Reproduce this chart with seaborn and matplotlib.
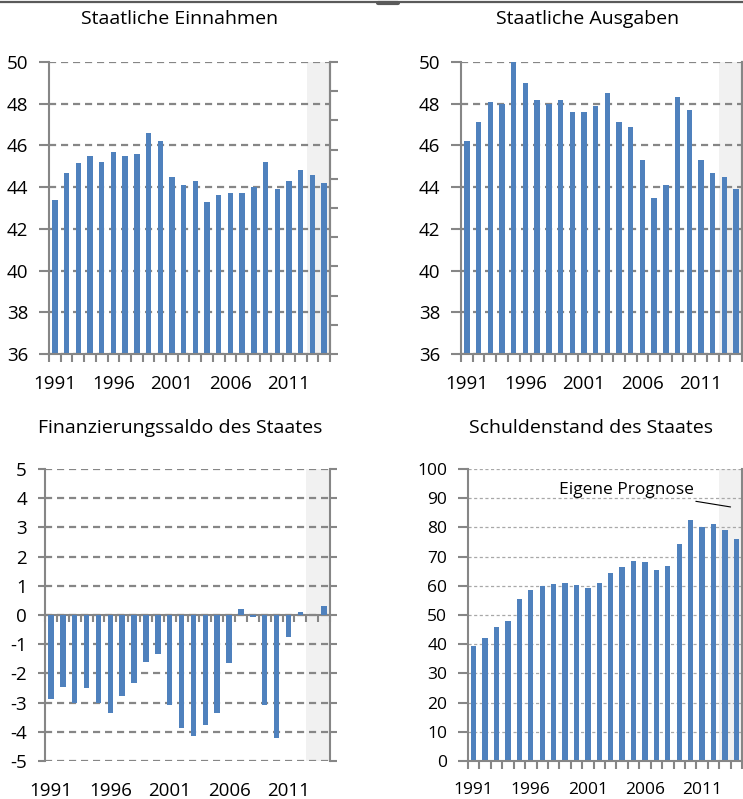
import seaborn as sns
import pandas as pd
import matplotlib.pyplot as plt
import numpy as np
from matplotlib.lines import Line2D

years = [str(y) for y in range(1991, 2015)]
label_years = ['1991', '1996', '2001', '2006', '2011']

einnahmen = [43.4, 44.7, 45.15, 45.5, 45.2, 45.7, 45.5, 45.6, 46.6, 46.2, 44.5, 44.1,
             44.3, 43.3, 43.6, 43.7, 43.7, 44.0, 45.2, 43.9, 44.3, 44.8, 44.6, 44.2]
ausgaben = [46.2, 47.1, 48.1, 48.0, 50.0, 49.0, 48.2, 48.0, 48.2, 47.6, 47.6, 47.9,
            48.5, 47.1, 46.9, 45.3, 43.5, 44.1, 48.3, 47.7, 45.3, 44.7, 44.5, 43.9]
saldo = [-2.87, -2.46, -3.0, -2.49, -3.02, -3.35, -2.77, -2.34, -1.61, -1.35, -3.07, -3.86,
         -4.16, -3.78, -3.35, -1.66, 0.22, -0.06, -3.09, -4.2, -0.77, 0.09, 0.0, 0.3]
schulden = [39.5, 42.1, 45.8, 48.0, 55.4, 58.4, 59.8, 60.6, 61.1, 60.2, 59.2, 60.8,
            64.5, 66.3, 68.6, 68.0, 65.3, 66.7, 74.4, 82.4, 80.0, 81.3, 79.1, 76.1]

titles = ['Staatliche Einnahmen', 'Staatliche Ausgaben',
          'Finanzierungssaldo des Staates', 'Schuldenstand des Staates']

BLUE = '#4f81bd'
GRAY = '#868686'

sns.set_style('white')
plt.rcParams['font.family'] = ['Open Sans', 'DejaVu Sans']
plt.rcParams['axes.unicode_minus'] = False
plt.rcParams['text.color'] = 'black'
plt.rcParams['xtick.labelcolor'] = 'black'
plt.rcParams['ytick.labelcolor'] = 'black'

fig = plt.figure(figsize=(7.43, 7.99), dpi=100)
W, H = 743, 799


def make_ax(left, right, top, bottom):
    return fig.add_axes([left / W, 1 - bottom / H, (right - left) / W, (bottom - top) / H])


def draw(ax, values, ymin, ymax, step, grid_kw, fs=12):
    df = pd.DataFrame({'Jahr': years, 'Wert': values})
    ax.axvspan(21.5, 23.5, color='#f1f1f1', zorder=0, lw=0)
    sns.barplot(data=df, x='Jahr', y='Wert', color=BLUE, width=0.46, saturation=1,
                edgecolor='none', linewidth=0, ax=ax, zorder=2)
    ax.set_xlim(-0.5, 23.5)
    ax.set_ylim(ymin, ymax)
    ax.set_yticks(np.arange(ymin, ymax + step / 2, step))
    ax.set_xticks([years.index(y) for y in label_years])
    ax.set_xticklabels(label_years)
    ax.set_xlabel('')
    ax.set_ylabel('')
    ax.yaxis.grid(True, color=grid_kw['color'], lw=grid_kw['lw'],
                  linestyle=(0, grid_kw['dash']))
    ax.set_axisbelow(True)
    ax.spines['top'].set_visible(False)
    for s in ['left', 'right', 'bottom']:
        ax.spines[s].set_color(GRAY)
        ax.spines[s].set_linewidth(1.5)
    ax.tick_params(axis='y', which='major', left=True, length=7, width=1.5,
                   color=GRAY, direction='out', pad=8, labelsize=fs)
    ax.tick_params(axis='x', which='major', length=0, pad=15, labelsize=fs)
    ax.set_xticks(np.arange(-0.5, 24, 1), minor=True)
    ax.tick_params(axis='x', which='minor', bottom=True, length=6, width=1.5,
                   color=GRAY, direction='out')


dash_grid = dict(color=GRAY, lw=1.6, dash=(3.2, 2.2))
dot_grid = dict(color='#a8a8a8', lw=0.9, dash=(2.5, 2.0))

# Staatliche Einnahmen
ax1 = make_ax(49, 330, 62, 354)
draw(ax1, einnahmen, 36, 50, 2, dash_grid, fs=13.5)
# Staatliche Ausgaben
ax2 = make_ax(461, 742, 62, 354)
draw(ax2, ausgaben, 36, 50, 2, dash_grid, fs=13.5)
for ax in (ax1, ax2):
    sec = ax.secondary_yaxis('right')
    sec.set_yticks(np.linspace(36, 50, 11))
    sec.set_yticklabels([])
    sec.tick_params(length=6, width=1.5, color=GRAY, direction='out')
    sec.spines['right'].set_color(GRAY)
    sec.spines['right'].set_linewidth(1.5)

# Finanzierungssaldo
ax3 = make_ax(45, 330, 469, 761)
draw(ax3, saldo, -5, 5, 1, dash_grid, fs=13.5)
ax3.spines['bottom'].set_visible(False)
ax3.tick_params(axis='x', which='minor', length=0)
ax3.tick_params(axis='y', right=True, length=5)
zero = ax3.secondary_xaxis(0.5)
zero.set_alignment('bottom')
zero.set_xticks(np.arange(-0.5, 24, 1))
zero.set_xticklabels([])
zero.tick_params(length=5, width=1.5, color=GRAY, direction='out')
zero.spines['bottom'].set_color(GRAY)
zero.spines['bottom'].set_linewidth(1.5)

# Schuldenstand
ax4 = make_ax(468, 742, 469, 761)
draw(ax4, schulden, 0, 100, 10, dot_grid, fs=12.5)
ax4.annotate('Eigene Prognose', xy=(22.5, 87), xytext=(19.3, 92.8),
             ha='right', va='center', fontsize=12.5,
             arrowprops=dict(arrowstyle='-', color='black', lw=0.8,
                             shrinkA=0, shrinkB=0))

# titles
title_pos = [(180, 19), (588, 19), (180, 428), (591, 428)]
for t, (tx, ty) in zip(titles, title_pos):
    fig.text(tx / W, 1 - ty / H, t, ha='center', va='center', fontsize=14)

# top border
fig.add_artist(Line2D([0, 1], [1 - 1.5 / H, 1 - 1.5 / H], color='#5a5a5a', lw=1.6,
                      transform=fig.transFigure))
fig.add_artist(Line2D([378 / W, 398 / W], [1 - 2.5 / H, 1 - 2.5 / H], color='#5a5a5a',
                      lw=3, transform=fig.transFigure))

fig.savefig('out.png', dpi=100)
